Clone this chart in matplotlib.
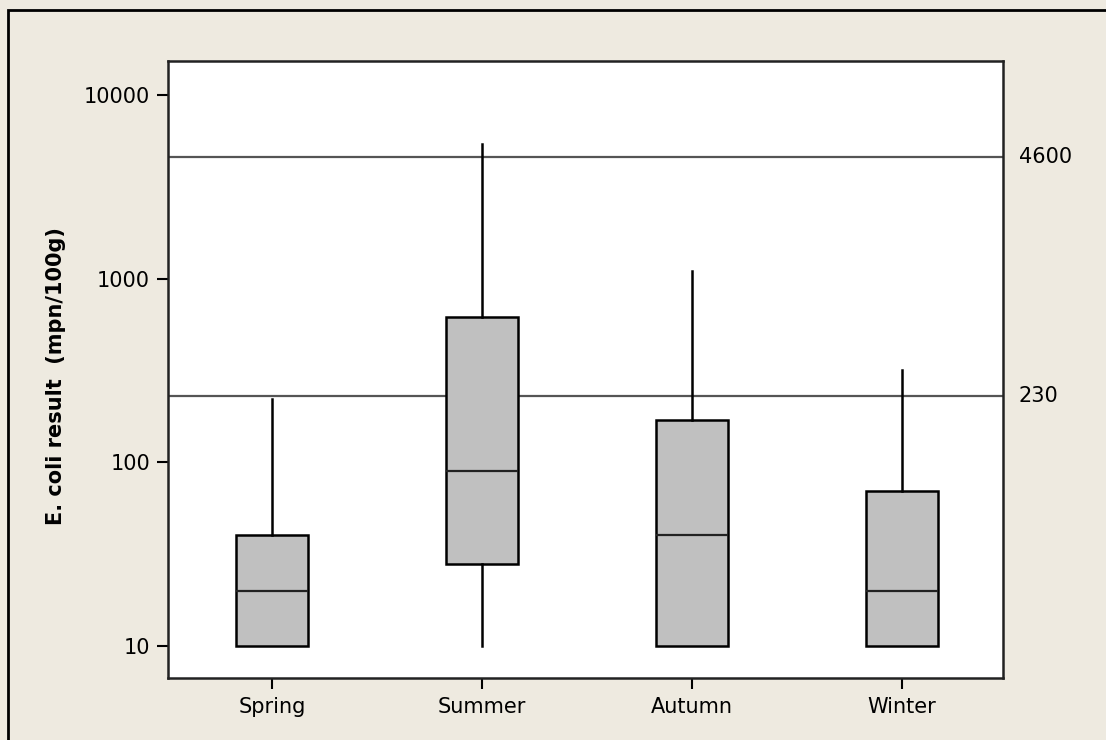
import numpy as np
import matplotlib
matplotlib.use("Agg")
import matplotlib.pyplot as plt
from matplotlib.patches import Rectangle

seasons = ["Spring", "Summer", "Autumn", "Winter"]
whislo = [10, 10, 10, 10]
q1 = [10, 28, 10, 10]
med = [20, 90, 40, 20]
q3 = [40, 620, 170, 70]
whishi = [220, 5400, 1100, 320]
ref_lines = [4600, 230]
yticks = [10, 100, 1000, 10000]

bg = "#EEEAE0"
plt.rcParams["font.family"] = "DejaVu Sans"

fig = plt.figure(figsize=(11.06, 7.40), dpi=100, facecolor=bg)
ax = fig.add_axes([168 / 1106, 62 / 740, 835 / 1106, 617 / 740])
ax.set_facecolor("white")

# outer frame (only left and top edges show)
fig.patches.append(Rectangle((7.5 / 1106, -0.05), 1.2, (740 - 9.5) / 740 + 0.05,
                             transform=fig.transFigure, fill=False,
                             edgecolor="black", linewidth=2))

stats = []
for i, s in enumerate(seasons):
    stats.append(dict(label=s, whislo=whislo[i], q1=q1[i], med=med[i],
                      q3=q3[i], whishi=whishi[i]))

ax.bxp(stats, positions=[1, 2, 3, 4], widths=0.345, patch_artist=True,
       showcaps=False, showfliers=False,
       boxprops=dict(facecolor="#C0C0C0", edgecolor="black", linewidth=1.8),
       whiskerprops=dict(color="black", linewidth=1.8),
       medianprops=dict(color="#222222", linewidth=1.6))

for v in ref_lines:
    ax.axhline(v, color="#555555", linewidth=1.6, zorder=0.5)
    ax.text(1.019, v, str(v), transform=ax.get_yaxis_transform(),
            va="center", ha="left", fontsize=15)

ax.set_yscale("log")
ax.set_ylim(6.7, 15300)
ax.set_xlim(0.505, 4.48)
ax.set_yticks(yticks)
ax.set_yticklabels([str(t) for t in yticks])
ax.yaxis.set_minor_locator(matplotlib.ticker.NullLocator())
ax.set_xticks([1, 2, 3, 4])
ax.set_xticklabels(seasons)
ax.tick_params(axis="both", labelsize=15, length=8, width=1.5, direction="out")
ax.tick_params(axis="y", pad=5)
ax.tick_params(axis="x", pad=6)

for sp in ax.spines.values():
    sp.set_linewidth(1.8)
    sp.set_color("#222222")

ax.set_ylabel("E. coli result  (mpn/100g)", fontsize=15, fontweight="bold")
ax.yaxis.set_label_coords(-0.122, 0.49)

fig.savefig("out.png", dpi=100, facecolor=bg)
